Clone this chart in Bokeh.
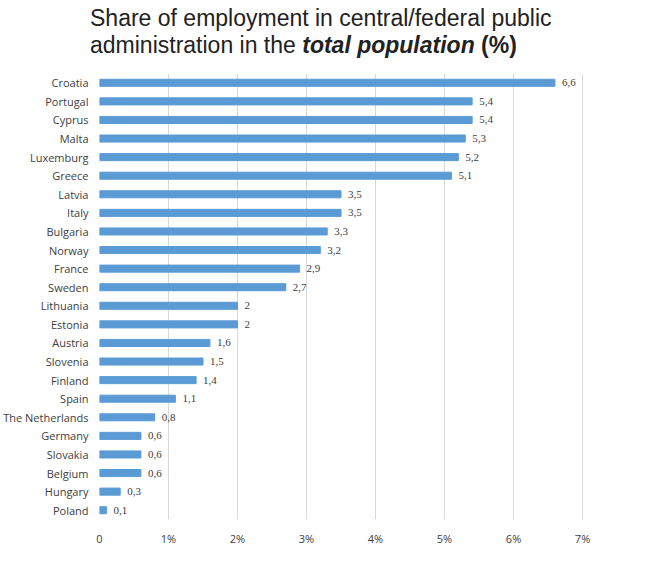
from bokeh.plotting import figure
from bokeh.models import ColumnDataSource, Div, FixedTicker
from bokeh.layouts import column
from bokeh.embed import file_html
from bokeh.resources import INLINE

countries = ["Croatia","Portugal","Cyprus","Malta","Luxemburg","Greece","Latvia","Italy","Bulgaria","Norway","France","Sweden","Lithuania","Estonia","Austria","Slovenia","Finland","Spain","The Netherlands","Germany","Slovakia","Belgium","Hungary","Poland"]
values = [6.6,5.4,5.4,5.3,5.2,5.1,3.5,3.5,3.3,3.2,2.9,2.7,2,2,1.6,1.5,1.4,1.1,0.8,0.6,0.6,0.6,0.3,0.1]
tick_labels = ["0","1%","2%","3%","4%","5%","6%","7%"]

labels = [("%g" % v).replace(".", ",") for v in values]
src = ColumnDataSource(dict(c=countries, v=values, l=labels))

title = Div(text='<div style="font-family:\'Liberation Sans\',Arial,sans-serif;font-size:23px;line-height:27px;color:#222;padding-left:85px">'
            'Share of employment in central/federal public<br>administration in the <b><i>total population</i> (%)</b></div>',
            width=630, height=58)

p = figure(y_range=list(reversed(countries)), x_range=(0, 7.55), width=630, height=480,
           output_backend="svg", toolbar_location=None, min_border_left=0, min_border_right=10,
           min_border_top=5)
p.hbar(y="c", right="v", height=0.38, source=src, color="#5B9BD5")
p.text(x="v", y="c", text="l", source=src, x_offset=7, text_baseline="middle",
       text_font_size="11px", text_color="#404040", text_font="Open Sans")
p.xaxis.ticker = FixedTicker(ticks=list(range(8)))
p.xaxis.major_label_overrides = {i: t for i, t in enumerate(tick_labels)}
for ax in (p.xaxis, p.yaxis):
    ax.axis_line_color = None
    ax.major_tick_line_color = None
    ax.minor_tick_line_color = None
    ax.major_label_text_font = "Open Sans"
    ax.major_label_text_font_size = "11px"
    ax.major_label_text_color = "#404040"
p.ygrid.grid_line_color = None
p.xgrid.grid_line_color = "#D9D9D9"
p.outline_line_color = None

open("out.html", "w").write(file_html(column(title, p), INLINE))
